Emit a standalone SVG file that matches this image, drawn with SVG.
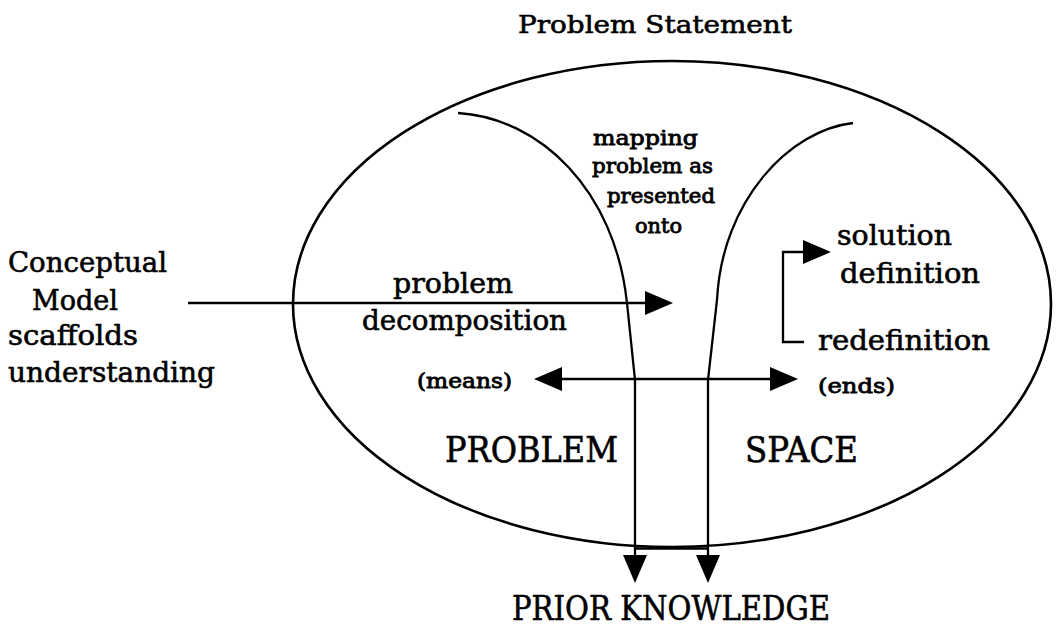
<svg xmlns="http://www.w3.org/2000/svg" width="1057" height="628" viewBox="0 0 1057 628">
<style>
  .t { font-family: "DejaVu Serif", "Liberation Serif", serif; fill: #000; stroke: #000; stroke-width: 0.6; }
  .big { font-size: 28px; }
  .sm { font-size: 20px; stroke-width: 0.8; }
  .cap { font-size: 36px; }
  .ln { fill: none; stroke: #000; stroke-width: 2.6; }
  .thin { fill: none; stroke: #000; stroke-width: 2.3; }
</style>
<defs>
  <marker id="ah" viewBox="0 0 28 24" refX="0" refY="12" markerWidth="28" markerHeight="24" markerUnits="userSpaceOnUse" orient="auto-start-reverse">
    <path d="M0,0 L28,12 L0,24 z" fill="#000"/>
  </marker>
</defs>
<rect width="1057" height="628" fill="#fff"/>

<g id="problem-space">
  <ellipse cx="672" cy="304" rx="379" ry="243" class="ln"/>
  <text class="t cap" x="445" y="462" textLength="173" lengthAdjust="spacingAndGlyphs">PROBLEM</text>
  <text class="t cap" x="745" y="462" textLength="113" lengthAdjust="spacingAndGlyphs">SPACE</text>
</g>

<g id="problem-statement">
  <text class="t" style="font-size:25px" x="518" y="33" textLength="274" lengthAdjust="spacingAndGlyphs">Problem Statement</text>
</g>

<g id="prior-knowledge">
  <text class="t" style="font-size:34px" x="512" y="620" textLength="318" lengthAdjust="spacingAndGlyphs">PRIOR KNOWLEDGE</text>
</g>

<g id="conceptual-model">
  <text class="t big" x="8" y="272" textLength="159" lengthAdjust="spacingAndGlyphs">Conceptual</text>
  <text class="t big" x="32" y="310" textLength="86" lengthAdjust="spacingAndGlyphs">Model</text>
  <text class="t big" x="8" y="345" textLength="130" lengthAdjust="spacingAndGlyphs">scaffolds</text>
  <text class="t big" x="8" y="382" textLength="207" lengthAdjust="spacingAndGlyphs">understanding</text>
</g>

<g id="problem-decomposition">
  <text class="t big" x="393" y="293" textLength="120" lengthAdjust="spacingAndGlyphs">problem</text>
  <text class="t big" x="362" y="330" textLength="205" lengthAdjust="spacingAndGlyphs">decomposition</text>
</g>

<g id="mapping">
  <text class="t sm" x="593" y="145" textLength="105" lengthAdjust="spacingAndGlyphs">mapping</text>
  <text class="t sm" x="592" y="173" textLength="121" lengthAdjust="spacingAndGlyphs">problem as</text>
  <text class="t sm" x="607" y="203" textLength="108" lengthAdjust="spacingAndGlyphs">presented</text>
  <text class="t sm" x="635" y="233" textLength="47" lengthAdjust="spacingAndGlyphs">onto</text>
</g>

<g id="means">
  <text class="t sm" x="417" y="388" textLength="95" lengthAdjust="spacingAndGlyphs">(means)</text>
</g>

<g id="ends">
  <text class="t sm" x="818" y="393" textLength="77" lengthAdjust="spacingAndGlyphs">(ends)</text>
</g>

<g id="solution-definition">
  <text class="t big" x="837" y="245" textLength="115" lengthAdjust="spacingAndGlyphs">solution</text>
  <text class="t big" x="840" y="283" textLength="140" lengthAdjust="spacingAndGlyphs">definition</text>
</g>

<g id="redefinition">
  <text class="t big" x="818" y="350" textLength="172" lengthAdjust="spacingAndGlyphs">redefinition</text>
</g>

<g id="connectors">
  <line class="ln" x1="188" y1="303" x2="645" y2="303" marker-end="url(#ah)"/>
  <line class="ln" x1="562" y1="379" x2="770" y2="379" marker-start="url(#ah)" marker-end="url(#ah)"/>
  <path class="thin" d="M804,342 H783 V252 H803" marker-end="url(#ah)"/>
  <path class="thin" d="M458,113 C540,118 615,190 627,303 L635,380 L635,555" marker-end="url(#ah)"/>
  <path class="thin" d="M853,123 C790,130 722,200 717,300 L708,380 L708,555" marker-end="url(#ah)"/>
  <line class="thin" x1="635" y1="548.5" x2="708" y2="548.5"/>
</g>
</svg>
